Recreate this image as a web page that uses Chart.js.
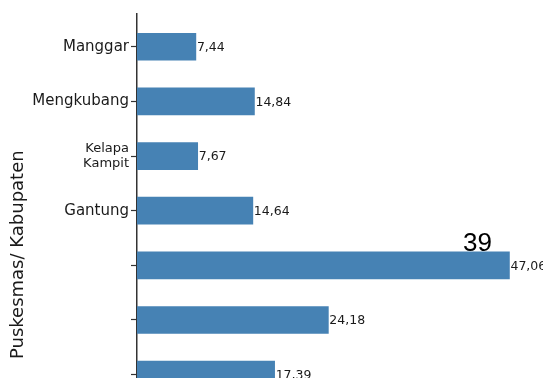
<!DOCTYPE html>
<html>
<head>
<meta charset="utf-8">
<script src="https://cdn.jsdelivr.net/npm/chart.js@4/dist/chart.umd.min.js"></script>
<style>
  html, body { margin: 0; padding: 0; background: #fff; overflow: hidden; width: 543px; height: 378px; }
  #wrap { width: 543px; height: 506px; }
</style>
</head>
<body>
<div id="wrap"><canvas id="chart" width="543" height="506"></canvas></div>
<script>
// Puskesmas names (a nested array is a two-line label); the last three have no name.
const categories = ['Manggar', 'Mengkubang', ['Kelapa', 'Kampit'], 'Gantung', '', '', ''];
// Rate per Puskesmas
const rates = [7.44, 14.84, 7.67, 14.64, 47.06, 24.18, 17.39];
// Extra note written above one of the bars
const noteText = '39';
const noteIndex = 4;

const BAR_COLOR = '#4682b4';
const TEXT_COLOR = '#1a1a1a';
const AXIS_COLOR = '#333333';

const fmt = v => v.toFixed(2).replace('.', ',');

// Value label at the end of each bar, plus the note above bar noteIndex
const barText = {
  id: 'barText',
  afterDatasetsDraw(chart) {
    const ctx = chart.ctx;
    const meta = chart.getDatasetMeta(0);
    ctx.save();
    ctx.fillStyle = TEXT_COLOR;
    ctx.font = '12.5px "DejaVu Sans"';
    ctx.textAlign = 'left';
    ctx.textBaseline = 'middle';
    meta.data.forEach((bar, i) => {
      ctx.fillText(fmt(rates[i]), bar.x + 1, bar.y + 1);
    });
    const nb = meta.data[noteIndex];
    ctx.font = '26px "Liberation Sans"';
    ctx.textAlign = 'center';
    ctx.textBaseline = 'alphabetic';
    ctx.fillStyle = '#000';
    ctx.fillText(noteText, nb.x - 32, nb.y - nb.height / 2 - 1);
    ctx.restore();
  }
};

new Chart(document.getElementById('chart'), {
  type: 'bar',
  data: {
    datasets: [{
      data: rates.map((v, i) => ({ x: v, y: i })),
      backgroundColor: BAR_COLOR,
      borderWidth: 0,
      barThickness: 27
    }]
  },
  options: {
    indexAxis: 'y',
    responsive: false,
    animation: false,
    layout: { padding: { top: 14, left: 0, right: 0, bottom: 0 } },
    plugins: { legend: { display: false }, tooltip: { enabled: false } },
    scales: {
      x: {
        type: 'linear',
        display: false,
        min: 0,
        max: 51.3
      },
      y: {
        type: 'linear',
        reverse: true,
        offset: false,
        min: -0.6,
        max: 8.21,
        afterBuildTicks(scale) {
          scale.ticks = categories.map((_, i) => ({ value: i }));
        },
        afterFit(scale) { scale.width = 137; },
        border: { display: true, color: AXIS_COLOR, width: 1.5 },
        grid: {
          display: true,
          offset: false,
          drawOnChartArea: false,
          drawTicks: true,
          tickLength: 6,
          tickWidth: 1.2,
          tickColor: AXIS_COLOR
        },
        ticks: {
          padding: 2,
          color: TEXT_COLOR,
          autoSkip: false,
          callback: v => categories[v],
          font: ctx => ({
            family: '"DejaVu Sans"',
            size: (ctx.tick && Array.isArray(categories[ctx.tick.value])) ? 13 : 15,
            lineHeight: 1.15
          })
        },
        title: {
          display: true,
          text: 'Puskesmas/ Kabupaten',
          color: TEXT_COLOR,
          font: { family: '"DejaVu Sans"', size: 18 },
          padding: { top: 8, bottom: 0 }
        }
      }
    }
  },
  plugins: [barText]
});
</script>
</body>
</html>
